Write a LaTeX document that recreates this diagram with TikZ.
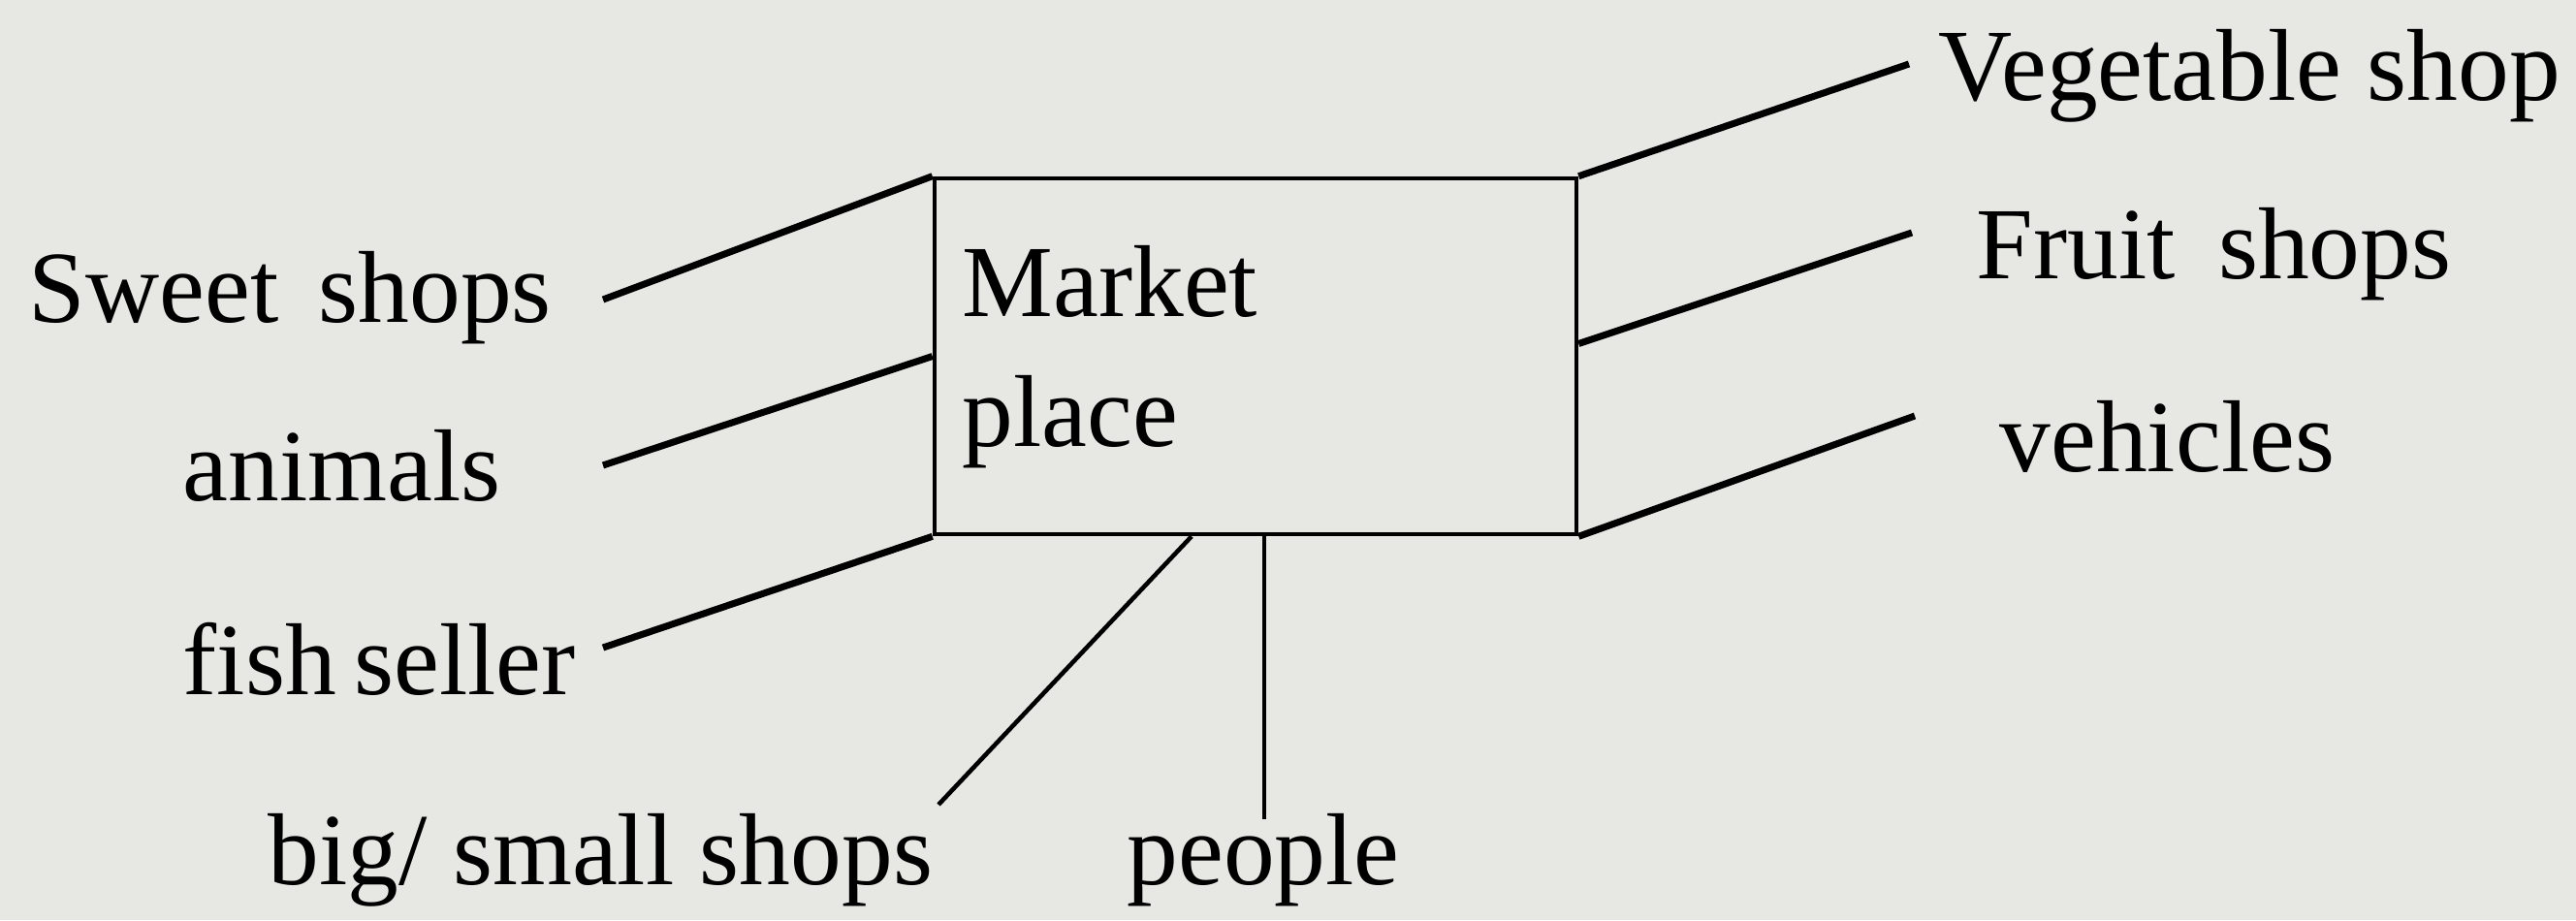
\documentclass[tikz,border=0pt]{standalone}
\usepackage{fontspec}
\setmainfont{Liberation Serif}
\definecolor{paper}{RGB}{231,231,228}

\begin{document}
\begin{tikzpicture}
\tikzstyle{every node}+=[inner sep=0pt]
\tikzstyle{lbl}=[font=\fontsize{30}{36}\selectfont, anchor=base west]
\tikzstyle{link}=[black, line width=2pt]
\fill [paper] (0,0) rectangle (26.57,-9.49);
% the box in the middle
\node [draw, line width=1.3pt, minimum width=6.62cm, minimum height=3.67cm] (market) at (12.95,-3.675) {};
\node [lbl] (mk1) at (9.92,-3.26) {Market};
\node [lbl] (mk2) at (9.92,-4.60) {place};
% labels on the left
\node [lbl] (sweet) at (0.29,-3.32) {Sweet\hspace{0.15cm} shops};
\node [lbl] (animals) at (1.88,-5.16) {animals};
\node [lbl] (fish) at (1.88,-7.16) {fish\hspace{-0.08cm} seller};
\node [lbl] (bigsmall) at (2.76,-9.12) {big/ small shops};
\node [lbl] (people) at (11.62,-9.12) {people};
% labels on the right
\node [lbl] (veg) at (19.99,-1.03) {Vegetable shop};
\node [lbl] (fruit) at (20.38,-2.87) {Fruit\hspace{0.18cm} shops};
\node [lbl] (vehicles) at (20.62,-4.86) {vehicles};
% free ends of the lines
\coordinate (sweet-e) at (6.22,-3.09);
\coordinate (animals-e) at (6.22,-4.80);
\coordinate (fish-e) at (6.22,-6.68);
\coordinate (bigsmall-e) at (9.68,-8.30);
\coordinate (people-e) at (13.04,-8.45);
\coordinate (veg-w) at (19.69,-0.66);
\coordinate (fruit-w) at (19.72,-2.40);
\coordinate (vehicles-w) at (19.75,-4.29);
\draw [link] (sweet-e) -- (market.north west);
\draw [link] (animals-e) -- (market.west);
\draw [link] (fish-e) -- (market.south west);
\draw [link] (market.north east) -- (veg-w);
\draw [link] ([yshift=0.13cm]market.east) -- (fruit-w);
\draw [link] (market.south east) -- (vehicles-w);
\draw [black, line width=1.3pt] ([xshift=-0.66cm]market.south) -- (bigsmall-e);
\draw [black, line width=1.1pt] ([xshift=0.09cm]market.south) -- (people-e);
\end{tikzpicture}
\end{document}
